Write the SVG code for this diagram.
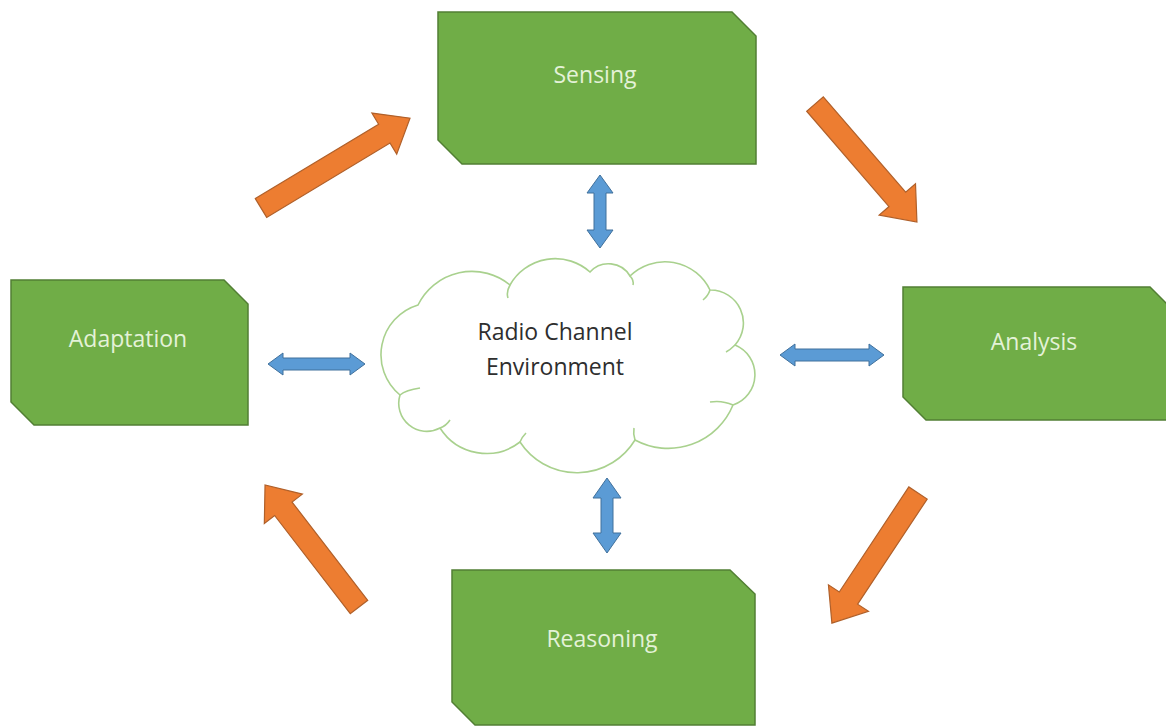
<svg xmlns="http://www.w3.org/2000/svg" width="1166" height="727" viewBox="0 0 1166 727">
<defs>
<style>
.box{fill:#70ad47;stroke:#527f34;stroke-width:1.5}
.lbl{font-family:"Open Sans","Noto Sans",sans-serif;font-size:23px;fill:#e4f2d8;text-anchor:middle}
.ctext{font-family:"Open Sans","Noto Sans",sans-serif;font-size:23px;fill:#2e2e2e;text-anchor:middle}
.cloud{fill:#ffffff;stroke:#a9d18e;stroke-width:1.6}
.stub{fill:none;stroke:#a9d18e;stroke-width:1.6}
.orange{fill:#ed7d31;stroke:#b0602a;stroke-width:1.2}
.blue{fill:#5b9bd5;stroke:#41719c;stroke-width:1}
</style>
</defs>
<rect width="1166" height="727" fill="#ffffff"/>

<g id="sensing">
<polygon class="box" points="438,12 732,12 756,36 756,164 462,164 438,140"/>
<text class="lbl" x="595" y="83">Sensing</text>
</g>

<g id="adaptation">
<polygon class="box" points="11,280 224,280 248,304 248,425 34,425 11,402"/>
<text class="lbl" x="128" y="347">Adaptation</text>
</g>

<g id="analysis">
<polygon class="box" points="903,287 1150,287 1174,311 1174,420 926,420 903,397"/>
<text class="lbl" x="1034" y="350">Analysis</text>
</g>

<g id="reasoning">
<polygon class="box" points="452,570 730,570 755,594 755,725 475,725 452,702"/>
<text class="lbl" x="602" y="647">Reasoning</text>
</g>

<g id="cloud">
<path class="cloud" d="M400,395 A52,52 0 0 1 418,305 A60,60 0 0 1 510,285 A52,52 0 0 1 590,272 A25,25 0 0 1 630,276 A50,50 0 0 1 710,290 A33,33 0 0 1 735,345 A32,32 0 0 1 733,405 A70,70 0 0 1 635,440 A68,68 0 0 1 520,442 A55,55 0 0 1 440,428 A28,28 0 0 1 400,395 Z"/>
<path class="stub" d="M400,395 Q406,390 420,388"/>
<path class="stub" d="M510,285 Q506,292 508,298"/>
<path class="stub" d="M630,276 Q634,280 633,285"/>
<path class="stub" d="M710,290 Q708,296 703,300"/>
<path class="stub" d="M735,345 Q730,350 726,352"/>
<path class="stub" d="M733,405 Q722,400 710,402"/>
<path class="stub" d="M635,440 Q633,434 634,428"/>
<path class="stub" d="M520,442 Q522,437 526,433"/>
<path class="stub" d="M440,428 Q446,426 450,420"/>
<text class="ctext" x="555" y="340">Radio Channel</text>
<text class="ctext" x="555" y="375">Environment</text>
</g>

<g id="connectors">
<polygon class="orange" transform="translate(261,208) rotate(-31.1)" points="0,-11 144,-11 144,-24 174,0 144,24 144,11 0,11"/>
<polygon class="orange" transform="translate(815,104) rotate(49.2)" points="0,-11 126,-11 126,-24 156,0 126,24 126,11 0,11"/>
<polygon class="orange" transform="translate(918,493) rotate(123.5)" points="0,-11 126,-11 126,-24 156,0 126,24 126,11 0,11"/>
<polygon class="orange" transform="translate(359,607) rotate(-127.6)" points="0,-11 124,-11 124,-24 154,0 124,24 124,11 0,11"/>

<polygon class="blue" points="600,175 613,193 606,193 606,230 613,230 600,248 587,230 594,230 594,193 587,193"/>
<polygon class="blue" points="607,478 621,498 613,498 613,533 621,533 607,553 593,533 601,533 601,498 593,498"/>
<polygon class="blue" points="268,364 283,353 283,358 350,358 350,353 365,364 350,375 350,370 283,370 283,375"/>
<polygon class="blue" points="780,355 795,344 795,349 869,349 869,344 884,355 869,366 869,361 795,361 795,366"/>
</g>
</svg>
